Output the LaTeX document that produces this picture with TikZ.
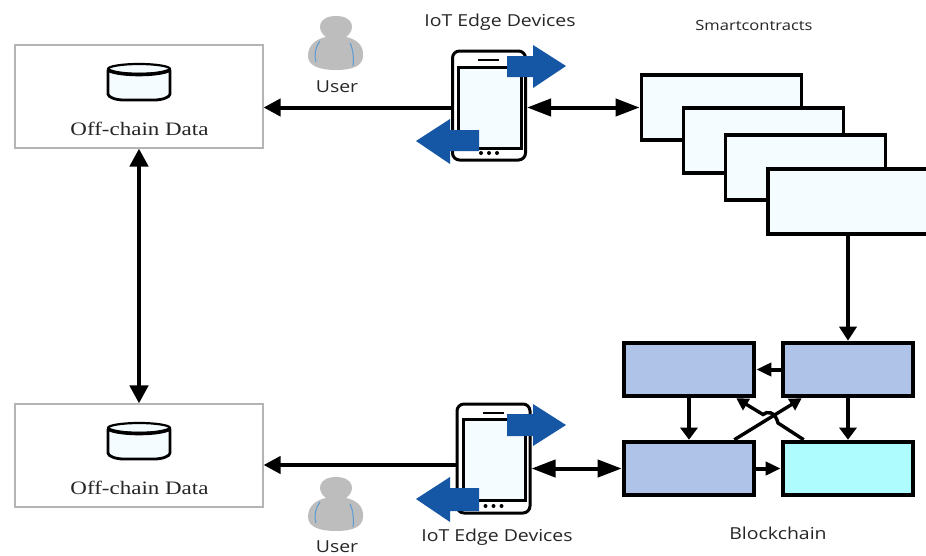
\documentclass[tikz,border=0pt]{standalone}
\usepackage{fontspec}
\setmainfont[FakeStretch=1.21]{Liberation Serif}
\newfontfamily\labelfont[FakeStretch=1.18]{Open Sans}
\usetikzlibrary{arrows.meta,calc}
\definecolor{blockblue}{HTML}{AFC3E8}
\definecolor{blockcyan}{HTML}{AFFCFF}
\definecolor{paleblue}{HTML}{F5FCFF}
\definecolor{arrowblue}{HTML}{1557A5}
\definecolor{usergray}{HTML}{BDBDBD}
\definecolor{framegray}{HTML}{B4B4B4}
\definecolor{strapblue}{HTML}{5B9BD5}
\tikzset{
  x=1pt,y=-1pt,
  frame/.style={draw=framegray,line width=1.1pt,fill=white,minimum width=248pt,minimum height=103pt,inner sep=0pt},
  contract/.style={draw=black,line width=3.8pt,fill=paleblue,minimum width=160pt,minimum height=65pt,inner sep=0pt},
  chain/.style={draw=black,line width=4.6pt,fill=blockblue,minimum width=130pt,minimum height=53pt,inner sep=0pt},
  phonebody/.style={draw=black,line width=3pt,fill=white,rounded corners=7pt,minimum width=73pt,minimum height=109pt,inner sep=0pt},
  screen/.style={draw=black,line width=3pt,fill=paleblue},
  link/.style={line width=4pt,draw=black},
  vboth/.style={link,line width=4.6pt,{Triangle[length=18pt,width=18pt]}-{Triangle[length=18pt,width=18pt]}},
  both/.style={link,{Triangle[length=24pt,width=17pt]}-{Triangle[length=24pt,width=17pt]}},
  toward/.style={link,-{Triangle[length=17pt,width=17pt]}},
  downlink/.style={link,-{Triangle[length=14pt,width=17pt]}},
  chaindown/.style={line width=4.6pt,draw=black,-{Triangle[length=12pt,width=17pt]}},
  chainside/.style={line width=4pt,draw=black,-{Triangle[length=15pt,width=13pt]}},
  chaincross/.style={line width=3.4pt,draw=black,-{Triangle[length=12pt,width=13pt]}},
  flat/.style={fill=arrowblue,draw=none},
  title/.style={font=\labelfont\fontsize{16.5}{18}\selectfont,text=black!85,inner sep=0pt},
  smalltitle/.style={font=\labelfont\fontsize{14}{18}\selectfont,text=black!85,inner sep=0pt},
  datatext/.style={font=\fontsize{19}{20}\selectfont,text=black!85,inner sep=0pt},
  pics/usericon/.style={code={
    \fill[usergray] (-28,22) .. controls (-28,11) and (-20,5) .. (-10,3)
      .. controls (-20,-4) and (-18,-18) .. (0,-18)
      .. controls (18,-18) and (20,-4) .. (10,3)
      .. controls (20,5) and (28,11) .. (27,22)
      .. controls (27,32) and (16,36) .. (0,36)
      .. controls (-16,36) and (-28,32) .. (-28,22) -- cycle;
    \draw[line width=1pt,color=strapblue] (-16,7) .. controls (-21,14) and (-22,22) .. (-20,28);
    \draw[line width=1pt,color=strapblue] (14,9) .. controls (17,15) and (18,24) .. (17,32);
  }},
  pics/drum/.style={code={
    \draw[line width=2.8pt,fill=paleblue] (-31,-12) -- (-31,12) .. controls (-31,15) and (-24,18) .. (-15,18) -- (15,18) .. controls (24,18) and (31,15) .. (31,12) -- (31,-12);
    \draw[line width=2.2pt,fill=paleblue] (0,-13) ellipse (31pt and 5pt);
    \draw[line width=3.6pt] (-31,-12) .. controls (-20,-6) and (20,-6) .. (31,-12);
  }},
  pics/devicedetail/.style={code={
    \draw[line width=2.2pt] (-11,-45.5) -- (10,-45.5);
    \fill (-8,47.5) circle (2pt) (0,47.5) circle (2pt) (8,47.5) circle (2pt);
  }},
}
\begin{document}
\begin{tikzpicture}
\useasboundingbox (0,0) rectangle (926,555);
\fill[white] (0,0) rectangle (926,555);

% off-chain stores
\node[frame] (offA) at (139,96.5) {};
\node[frame] (offB) at (139,455.5) {};
\pic at (139,82) {drum};
\pic at (139,441) {drum};
\node[datatext] (offAtext) at (139.5,129) {Off-chain Data};
\node[datatext] (offBtext) at (139.5,488) {Off-chain Data};

% smart contracts
\node[contract] (sc1) at (721.5,107.5) {};
\node[contract] (sc2) at (763.5,140.5) {};
\node[contract] (sc3) at (805.5,167.5) {};
\node[contract,minimum width=162pt] (sc4) at (849,201.5) {};

% blockchain
\node[chain] (ba) at (689,369.5) {};
\node[chain] (bb) at (848,369.5) {};
\node[chain] (bc) at (689,468.5) {};
\node[chain,fill=blockcyan] (bd) at (848,468.5) {};

% phones
\node[phonebody] (phA) at (489,105.5) {};
\node[phonebody] (phB) at (493.5,458.5) {};
\draw[screen] (458.5,67) rectangle (521,148);
\draw[screen] (463,419) rectangle (525,500);
\pic at (489,105.5) {devicedetail};
\pic at (493.5,458.5) {devicedetail};

% connectors
\draw[vboth] (offA.south) -- (offB.north);
\draw[toward] (phA.west |- sc1.west) -- (offA.east |- sc1.west);
\draw[both] (phA.east |- sc1.west) -- (sc1.west);
\draw[toward] (phB.west |- 0,465) -- (offB.east |- 0,465);
\draw[both] (phB.east |- bc.west) -- (bc.west);
\draw[downlink] (sc4.south -| bb.north) -- (bb.north);
\draw[chainside] (bb.west) -- (ba.east);
\draw[chaindown] (ba.south) -- (bc.north);
\draw[chaindown] (bb.south) -- (bd.north);
\draw[chainside] (bc.east) -- (bd.west);
\draw[chaincross] ($(bc.north east)+(-22,0)$) -- ($(bb.south west)+(21,0)$);
\draw[chaincross] ($(bd.north west)+(23,0)$) -- (778,423) .. controls (775,411) and (767,411) .. (763,414.5) -- ($(ba.south east)+(-20,0)$);

% blue flow arrows
\fill[flat] (507,56) -- (533,56) -- (533,45) -- (566,66) -- (533,88) -- (533,77) -- (507,77) -- cycle;
\fill[flat] (479,130) -- (450,130) -- (450,119) -- (416,141) -- (450,164) -- (450,151) -- (479,151) -- cycle;
\fill[flat] (507,414) -- (533,414) -- (533,404) -- (566,425) -- (533,446) -- (533,436) -- (507,436) -- cycle;
\fill[flat] (479,488) -- (450,488) -- (450,477) -- (416,499) -- (450,522) -- (450,511) -- (479,511) -- cycle;

% users
\pic at (336,34) {usericon};
\pic at (336,495) {usericon};

% labels
\node[title] (t1) at (337,87) {User};
\node[title] (t2) at (500,22) {IoT Edge Devices};
\node[smalltitle] (t3) at (754,25) {Smartcontracts};
\node[title] (t4) at (337,546.5) {User};
\node[title] (t5) at (497,537) {IoT Edge Devices};
\node[title] (t6) at (778,533) {Blockchain};
\end{tikzpicture}
\end{document}
